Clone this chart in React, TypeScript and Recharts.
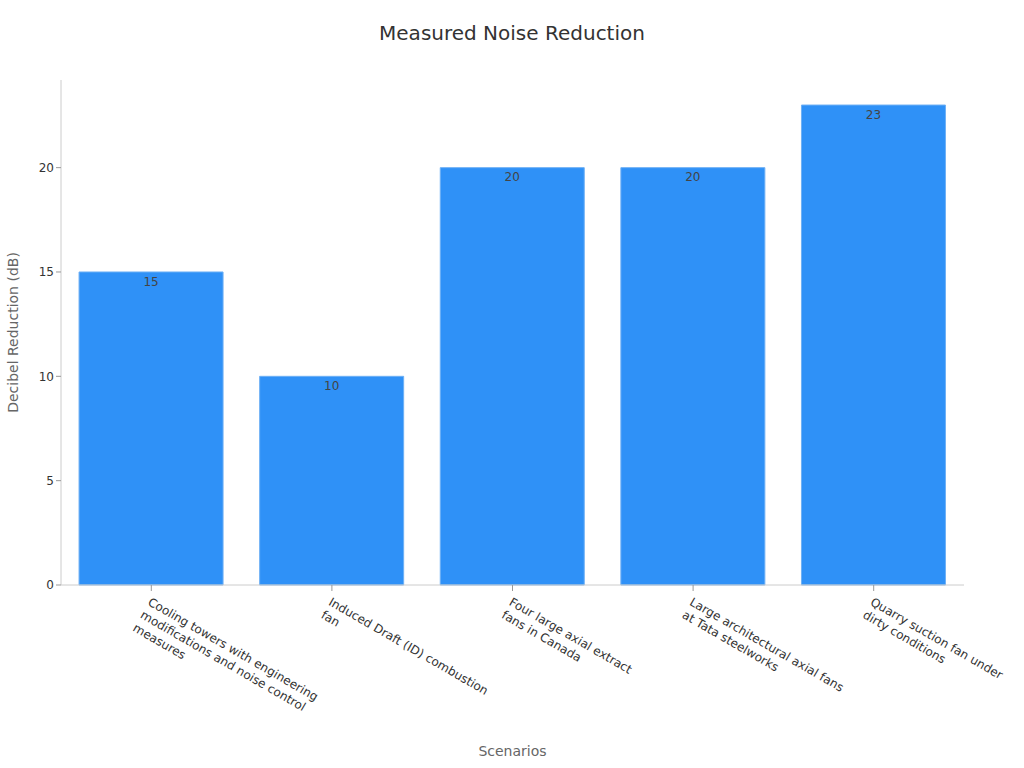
import React from "react";
import { BarChart, Bar, XAxis, YAxis, LabelList, Label } from "recharts";

const categories = [
  "Cooling towers with engineering\nmodifications and noise control\nmeasures",
  "Induced Draft (ID) combustion\nfan",
  "Four large axial extract\nfans in Canada",
  "Large architectural axial fans\nat Tata steelworks",
  "Quarry suction fan under\ndirty conditions",
];
const reductions = [15, 10, 20, 20, 23];
const yTicks = [0, 5, 10, 15, 20];

const data = categories.map((c, i) => ({ name: c, value: reductions[i] }));

const FONT = "'DejaVu Sans', sans-serif";

const XTick = (props: any) => {
  const { x, y, payload } = props;
  const lines = String(payload.value).split("\n");
  return (
    <g transform={`translate(${x},${y + 4})`}>
      <text
        transform="rotate(30)"
        textAnchor="start"
        fill="#333"
        fontSize={12}
        fontFamily={FONT}
      >
        {lines.map((l, i) => (
          <tspan key={i} x={0} dy={i === 0 ? "0.71em" : 15}>
            {l}
          </tspan>
        ))}
      </text>
    </g>
  );
};

const YLabel = (props: any) => {
  const { viewBox } = props;
  const cy = viewBox.y + viewBox.height / 2;
  return (
    <text
      x={13}
      y={cy}
      transform={`rotate(-90, 13, ${cy})`}
      textAnchor="middle"
      dominantBaseline="central"
      fill="#666"
      fontSize={14}
      fontFamily={FONT}
    >
      Decibel Reduction (dB)
    </text>
  );
};

export default function App() {
  return (
    <div style={{ position: "absolute", left: 0, top: 0, width: 1024, height: 768, background: "#fff", fontFamily: FONT }}>
      <div
        style={{
          position: "absolute",
          top: 20,
          left: 0,
          width: 1024,
          textAlign: "center",
          fontSize: 20,
          color: "#333",
          fontFamily: FONT,
          lineHeight: "26px",
        }}
      >
        Measured Noise Reduction
      </div>
      <BarChart
        width={1024}
        height={768}
        data={data}
        margin={{ top: 80, right: 60, left: 2, bottom: 0 }}
        barCategoryGap="10%"
      >
        <XAxis
          dataKey="name"
          interval={0}
          height={183}
          tick={<XTick />}
          tickSize={6}
          stroke="#ccc"
          tickLine={{ stroke: "#999" }}
        >
          <Label
            value="Scenarios"
            position="insideBottom"
            offset={12}
            fill="#666"
            fontSize={14}
            fontFamily={FONT}
          />
        </XAxis>
        <YAxis
          width={59}
          domain={[0, 24.2]}
          ticks={yTicks}
          tickSize={5}
          stroke="#ccc"
          tickLine={{ stroke: "#999" }}
          tick={{ fill: "#333", fontSize: 12, fontFamily: FONT }}
        >
          <Label content={<YLabel />} />
        </YAxis>
        <Bar
          dataKey="value"
          fill="#2f91f7"
          stroke="#6eb0f5"
          strokeWidth={1}
          isAnimationActive={false}
        >
          <LabelList
            dataKey="value"
            position="insideTop"
            fill="#444"
            fontSize={12}
            fontFamily={FONT}
          />
        </Bar>
      </BarChart>
    </div>
  );
}
